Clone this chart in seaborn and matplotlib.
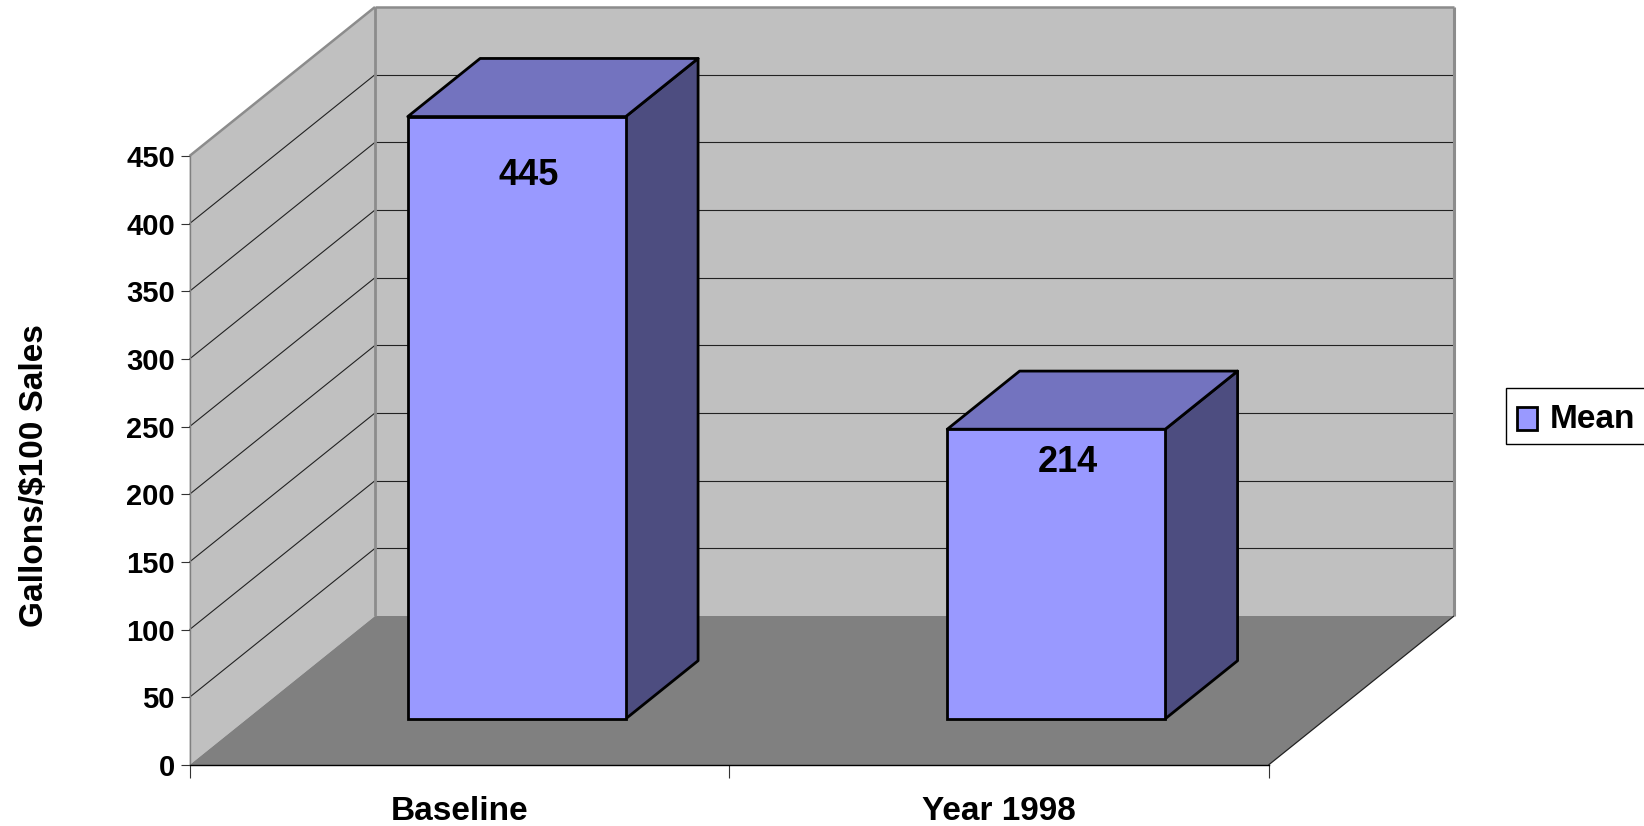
import matplotlib
matplotlib.use("Agg")
import matplotlib.pyplot as plt
from matplotlib.patches import Polygon, Patch
from matplotlib.transforms import Affine2D
import pandas as pd
import seaborn as sns

categories = ["Baseline", "Year 1998"]
means = [445, 214]
y_ticks = [0, 50, 100, 150, 200, 250, 300, 350, 400, 450]
series_name = "Mean"
y_label = "Gallons/$100 Sales"

WALL = "#C0C0C0"; FLOOR = "#808080"; BAR = "#9999FF"; SIDE = "#4D4D80"; TOP = "#7373BF"
W, H = 1644, 826
L, R, B, T = 189.5, 1268.5, 765, 156

sns.set_theme(style="white")
plt.rcParams["font.family"] = ["Liberation Sans", "DejaVu Sans"]
plt.rcParams["font.weight"] = "bold"

fig = plt.figure(figsize=(W / 100, H / 100), dpi=100, facecolor="white")
ax = fig.add_axes([L / W, 1 - B / H, (R - L) / W, (B - T) / H])
ax.patch.set_visible(False)

df = pd.DataFrame({"period": categories, "mean": means})
sns.barplot(data=df, x="period", y="mean", color=BAR, saturation=1, width=0.404,
            edgecolor="black", linewidth=2.0, ax=ax, zorder=5)
ax.set_xlim(-0.5, 1.5)
ax.set_ylim(0, 450)

# oblique projection: depth 1 is the back wall
DX = 185.5 / ((R - L) / 2)
DY = 149 / ((B - T) / 450)
def P(x, y, d):
    return (x + d * DX, y + d * DY)

x0, x1 = ax.get_xlim()
ymax = ax.get_ylim()[1]

def poly(pts, fc, ec="none", lw=0, z=1):
    ax.add_patch(Polygon(pts, closed=True, fc=fc, ec=ec, lw=lw, zorder=z, clip_on=False, joinstyle="round"))

poly([P(x0, 0, 1), P(x1, 0, 1), P(x1, ymax, 1), P(x0, ymax, 1)], WALL, z=0.5)
poly([P(x0, 0, 0), P(x0, ymax, 0), P(x0, ymax, 1), P(x0, 0, 1)], WALL, z=0.5)
poly([P(x0, 0, 0), P(x1, 0, 0), P(x1, 0, 1), P(x0, 0, 1)], FLOOR, z=0.6)

def line(a, b, color="#222222", lw=0.8, z=0.8):
    ax.plot([a[0], b[0]], [a[1], b[1]], color=color, lw=lw, zorder=z, clip_on=False, solid_capstyle="butt")

for v in y_ticks[1:-1]:
    line(P(x0, v, 0), P(x0, v, 1))
    line(P(x0, v, 1), P(x1, v, 1))
GR = "#8C8C8C"
line(P(x0, ymax, 0), P(x0, ymax, 1), GR, 1.8)
line(P(x0, ymax, 1), P(x1, ymax, 1), GR, 1.8)
line(P(x1, ymax, 1), P(x1, 0, 1), GR, 2.2)
line(P(x0, ymax, 1), P(x0, 0, 1), GR, 2.0)
line(P(x1, 0, 0), P(x1, 0, 1), "#222222", 0.9, 0.9)

# bars: front face at depth D0, back at D1
D0, D1 = 0.31, 0.70
shift = Affine2D().translate(D0 * DX, D0 * DY) + ax.transData
label_drop_px = [59, 33]
for bar, val, drop in zip(ax.patches[:len(means)], means, label_drop_px):
    bar.set_transform(shift)
    bar.set_clip_on(False)
    a, b = bar.get_x(), bar.get_x() + bar.get_width()
    poly([P(b, 0, D0), P(b, 0, D1), P(b, val, D1), P(b, val, D0)], SIDE, "black", 2.0, 4)
    poly([P(a, val, D0), P(b, val, D0), P(b, val, D1), P(a, val, D1)], TOP, "black", 2.0, 4)
    cx, cy = P((a + b) / 2, val, D0)
    ax.annotate(str(val), (cx, cy), xytext=(12 * 0.72, -drop * 0.72), textcoords="offset points",
                ha="center", va="center", fontsize=26, fontweight="bold", color="black",
                zorder=6, annotation_clip=False)

# axes furniture
for s in ("top", "right"):
    ax.spines[s].set_visible(False)
ax.spines["left"].set_color("#808080"); ax.spines["left"].set_linewidth(1.0)
ax.spines["bottom"].set_color("black"); ax.spines["bottom"].set_linewidth(1.0)
ax.spines["left"].set_zorder(1); ax.spines["bottom"].set_zorder(1)

ax.set_yticks(y_ticks)
ax.set_yticklabels([str(v) for v in y_ticks], fontsize=21, fontweight="bold", color="black")
ax.tick_params(axis="y", which="major", left=True, length=6.5, width=0.8, color="#333333", pad=4)
ax.set_xticks([x0, (x0 + x1) / 2, x1])
ax.set_xticklabels(["", "", ""])
ax.set_xticks([0, 1], labels=categories, minor=True)
ax.tick_params(axis="x", which="major", bottom=True, length=9, width=0.8, color="#333333")
ax.tick_params(axis="x", which="minor", bottom=False, length=0, pad=22, labelsize=24, labelcolor="black")
for t in ax.get_xticklabels(minor=True):
    t.set_fontweight("bold")
ax.set_xlabel("")
ax.set_ylabel(y_label, fontsize=24, fontweight="bold", color="black")
ax.yaxis.set_label_coords(50 / W, 1 - 476 / H, transform=fig.transFigure)

leg = ax.legend(handles=[Patch(fc=BAR, ec="black", lw=2.0, label=series_name)],
                loc="upper left", bbox_to_anchor=(1506 / W, 1 - 388 / H), bbox_transform=fig.transFigure,
                borderaxespad=0, frameon=True, fancybox=False, edgecolor="black",
                framealpha=1, borderpad=0.38, handlelength=0.62, handleheight=0.65, handletextpad=0.4,
                labelcolor="black",
                prop={"family": "Liberation Sans", "weight": "bold", "size": 24})
leg.get_frame().set_linewidth(1.0)
leg.legend_handles[0].set_y(-3.5)
leg.legend_handles[0].set_x(-1.5)
leg.get_texts()[0].set_y(-3.5)
leg.get_texts()[0].set_x(-2.5)

fig.savefig("out.png", dpi=100, facecolor="white")
